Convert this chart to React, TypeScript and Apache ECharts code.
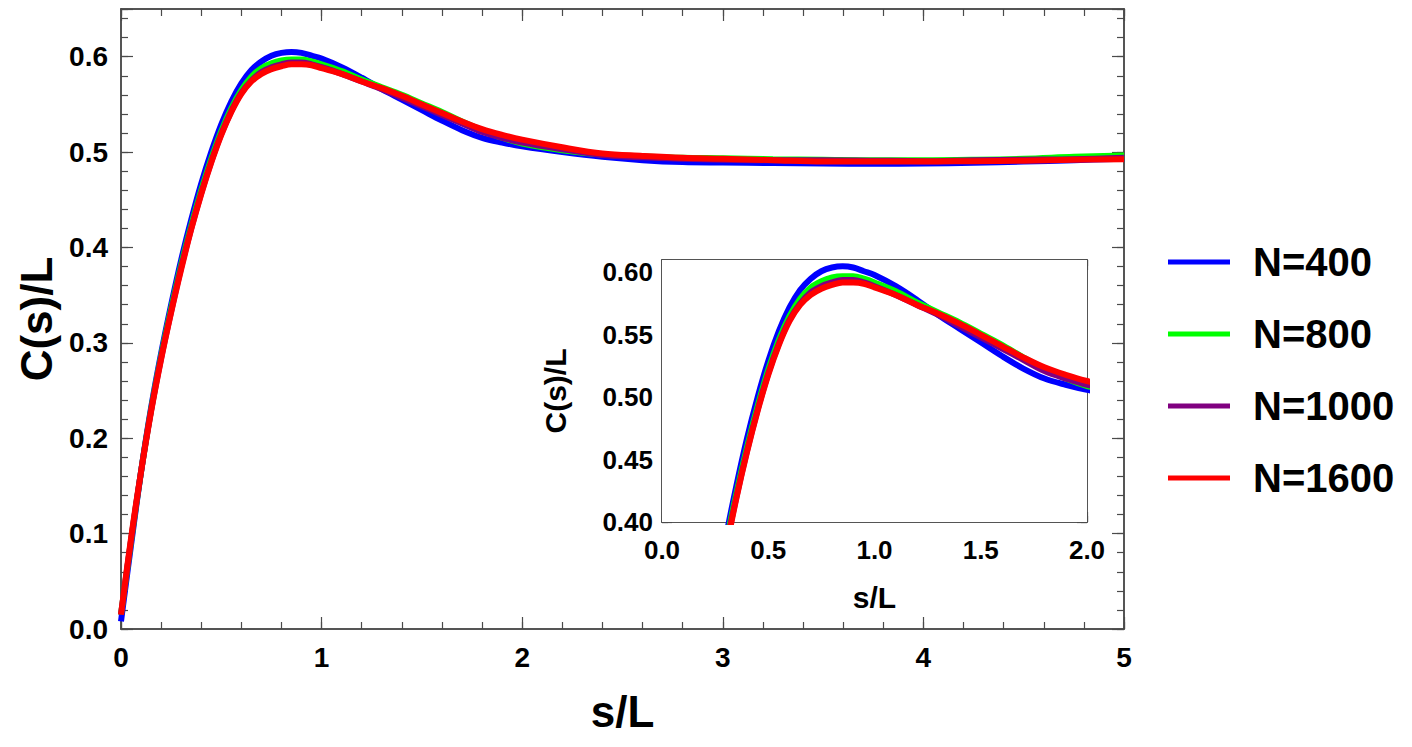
import React, { useEffect, useRef } from "react";
import * as echarts from "echarts";

const S = [0, 0.05, 0.1, 0.15, 0.2, 0.25, 0.3, 0.35, 0.4, 0.45, 0.5, 0.55, 0.6, 0.65, 0.7, 0.75, 0.8, 0.85, 0.9, 0.95, 1.0, 1.1, 1.2, 1.3, 1.4, 1.5, 1.6, 1.7, 1.8, 1.9, 2.0, 2.2, 2.4, 2.6, 2.8, 3.0, 3.25, 3.5, 3.75, 4.0, 4.25, 4.5, 4.75, 5.0];

const N400 = [0.008, 0.088, 0.165, 0.232, 0.289, 0.34, 0.387, 0.429, 0.467, 0.5, 0.529, 0.553, 0.572, 0.586, 0.595, 0.601, 0.604, 0.605, 0.604, 0.601, 0.598, 0.589, 0.578, 0.566, 0.555, 0.544, 0.533, 0.523, 0.515, 0.51, 0.506, 0.5, 0.495, 0.4915, 0.4895, 0.489, 0.4885, 0.488, 0.4878, 0.488, 0.4888, 0.49, 0.4915, 0.493];
const N800 = [0.015, 0.092, 0.165, 0.23, 0.286, 0.336, 0.382, 0.423, 0.46, 0.493, 0.522, 0.546, 0.565, 0.579, 0.588, 0.593, 0.596, 0.597, 0.597, 0.595, 0.592, 0.585, 0.576, 0.568, 0.56, 0.551, 0.542, 0.532, 0.523, 0.515, 0.509, 0.502, 0.4975, 0.4955, 0.494, 0.4935, 0.4925, 0.492, 0.4915, 0.4915, 0.492, 0.493, 0.495, 0.4965];
const N1000 = [0.015, 0.093, 0.165, 0.229, 0.284, 0.333, 0.379, 0.42, 0.457, 0.49, 0.519, 0.543, 0.562, 0.575, 0.584, 0.589, 0.592, 0.594, 0.594, 0.592, 0.589, 0.582, 0.574, 0.566, 0.557, 0.548, 0.539, 0.53, 0.521, 0.515, 0.51, 0.503, 0.497, 0.4945, 0.493, 0.492, 0.4915, 0.4915, 0.491, 0.4905, 0.4915, 0.492, 0.4925, 0.494];
const N1600 = [0.015, 0.095, 0.165, 0.228, 0.283, 0.332, 0.377, 0.419, 0.456, 0.489, 0.518, 0.542, 0.561, 0.574, 0.582, 0.587, 0.59, 0.592, 0.592, 0.591, 0.588, 0.582, 0.574, 0.567, 0.559, 0.55, 0.541, 0.532, 0.524, 0.518, 0.513, 0.505, 0.4985, 0.496, 0.494, 0.493, 0.4915, 0.49, 0.49, 0.49, 0.4905, 0.491, 0.492, 0.4925];

const SERIES_NAMES = ["N=400", "N=800", "N=1000", "N=1600"];
const SERIES_VALUES = [N400, N800, N1000, N1600];
const COLORS = ["#0000ff", "#00ff00", "#800080", "#ff0000"];

const FONT = "'Liberation Sans', Arial, sans-serif";
const AX = "#4a4a4a";

function makeX(gridIndex: number, min: number, max: number, major: number, minor: number, majLen: number, minLen: number, digits: number, fontSize: number, margin: number, name: string, nameSize: number, nameGap: number) {
  const base = {
    type: "value", gridIndex, min, max,
    axisLine: { show: true, onZero: false, lineStyle: { color: AX, width: 1.5 } },
    splitLine: { show: false },
  };
  return [
    { ...base, position: "bottom", interval: major,
      axisTick: { show: true, inside: true, length: majLen, lineStyle: { color: AX, width: 1.2 } },
      axisLabel: { show: true, margin, fontSize, fontWeight: "bold", fontFamily: FONT, color: "#000", showMaxLabel: true,
        formatter: (v: number) => v.toFixed(digits) },
      name, nameLocation: "middle", nameGap, nameTextStyle: { fontSize: nameSize, fontWeight: "bold", fontFamily: FONT, color: "#000" } },
    { ...base, position: "bottom", interval: minor,
      axisTick: { show: true, inside: true, length: minLen, lineStyle: { color: AX, width: 1.2 } },
      axisLabel: { show: false } },
    { ...base, position: "top", interval: major,
      axisTick: { show: true, inside: true, length: majLen, lineStyle: { color: AX, width: 1.2 } },
      axisLabel: { show: false } },
    { ...base, position: "top", interval: minor,
      axisTick: { show: true, inside: true, length: minLen, lineStyle: { color: AX, width: 1.2 } },
      axisLabel: { show: false } },
  ];
}

function makeY(gridIndex: number, min: number, max: number, major: number, minor: number, majLen: number, minLen: number, digits: number, fontSize: number, margin: number, name: string, nameSize: number, nameGap: number) {
  const base = {
    type: "value", gridIndex, min, max,
    axisLine: { show: true, onZero: false, lineStyle: { color: AX, width: 1.5 } },
    splitLine: { show: false },
  };
  return [
    { ...base, position: "left", interval: major,
      axisTick: { show: true, inside: true, length: majLen, lineStyle: { color: AX, width: 1.2 } },
      axisLabel: { show: true, margin, fontSize, fontWeight: "bold", fontFamily: FONT, color: "#000",
        formatter: (v: number) => {
          const k = Math.round((v - min) / major);
          if (Math.abs(min + k * major - v) > 1e-6) return "";
          return v.toFixed(digits);
        } },
      name, nameLocation: "middle", nameGap, nameRotate: 90, nameTextStyle: { fontSize: nameSize, fontWeight: "bold", fontFamily: FONT, color: "#000" } },
    { ...base, position: "left", interval: minor,
      axisTick: { show: true, inside: true, length: minLen, lineStyle: { color: AX, width: 1.2 } },
      axisLabel: { show: false } },
    { ...base, position: "right", interval: major,
      axisTick: { show: true, inside: true, length: majLen, lineStyle: { color: AX, width: 1.2 } },
      axisLabel: { show: false } },
    { ...base, position: "right", interval: minor,
      axisTick: { show: true, inside: true, length: minLen, lineStyle: { color: AX, width: 1.2 } },
      axisLabel: { show: false } },
  ];
}

export default function App() {
  const ref = useRef<HTMLDivElement>(null);
  useEffect(() => {
    if (!ref.current) return;
    const chart = echarts.init(ref.current, null, { renderer: "svg" });
    const xAxis = [
      ...makeX(0, 0, 5, 1, 0.2, 12, 7, 0, 28, 14, "s/L", 44, 60),
      ...makeX(1, 0, 2, 0.5, 0.1, 10, 6, 1, 26, 15, "s/L", 30, 60),
    ];
    const yAxis = [
      ...makeY(0, 0, 0.65, 0.1, 0.02, 12, 7, 1, 28, 13, "C(s)/L", 44, 62),
      ...makeY(1, 0.4, 0.61, 0.05, 0.01, 10, 6, 2, 26, 9, "C(s)/L", 30, 92),
    ];
    const series: any[] = [];
    SERIES_NAMES.forEach((name, i) => {
      const data = S.map((s, j) => [s, SERIES_VALUES[i][j]]);
      series.push({
        type: "line", name, xAxisIndex: 0, yAxisIndex: 0, data, showSymbol: false, smooth: 0.35,
        lineStyle: { color: COLORS[i], width: 6 }, itemStyle: { color: COLORS[i] }, z: 2 + i,
      });
      series.push({
        type: "line", name, xAxisIndex: 4, yAxisIndex: 4, data, showSymbol: false, smooth: 0.35, clip: true,
        lineStyle: { color: COLORS[i], width: 6 }, itemStyle: { color: COLORS[i] }, z: 2 + i,
      });
    });
    chart.setOption({
      animation: false,
      backgroundColor: "#ffffff",
      grid: [
        { left: 121, top: 9, width: 1003, height: 620, show: false },
        { left: 662, top: 260, width: 425, height: 262, show: true, backgroundColor: "#ffffff", borderWidth: 0, z: 1 },
      ],
      legend: {
        orient: "vertical", left: 1168, top: 242, padding: 0, itemWidth: 62, itemHeight: 5, itemGap: 32,
        icon: "rect",
        data: SERIES_NAMES,
        textStyle: { fontSize: 40, lineHeight: 39, fontWeight: "bold", fontFamily: FONT, color: "#000", padding: [0, 0, 0, 18] },
      },
      xAxis,
      yAxis,
      series,
    });
    return () => chart.dispose();
  }, []);
  return <div ref={ref} style={{ position: "fixed", left: 0, top: 0, width: 1412, height: 747 }} />;
}
